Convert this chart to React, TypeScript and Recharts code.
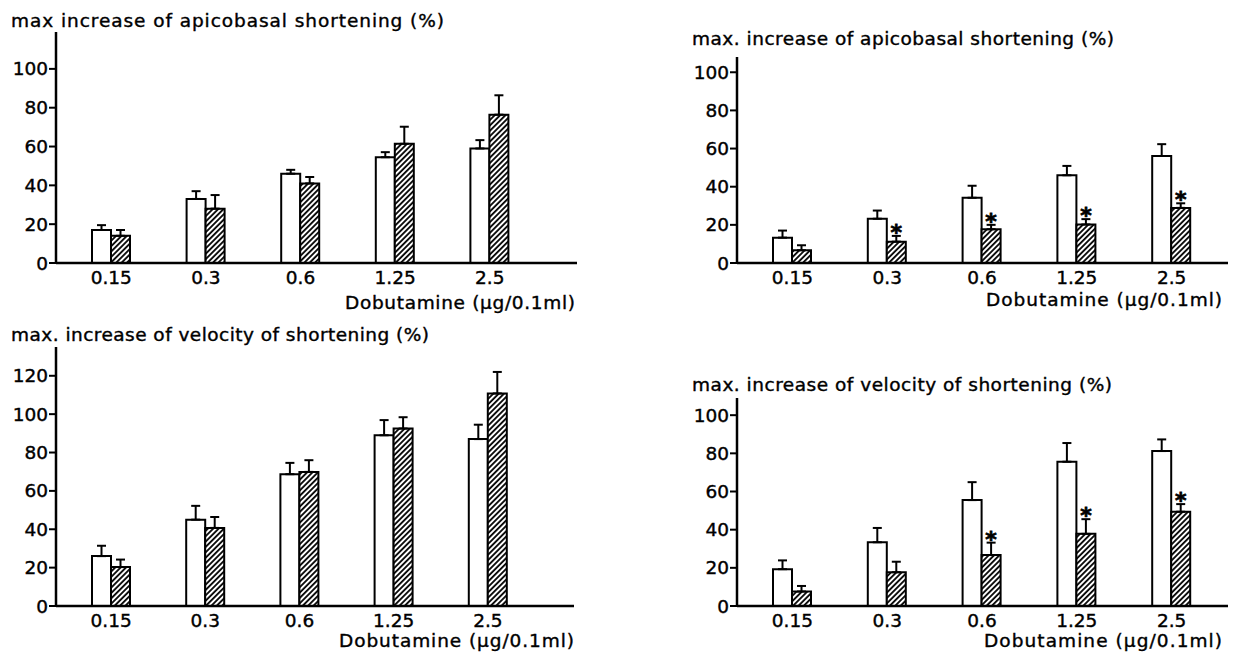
import { BarChart, Bar, XAxis, YAxis, ErrorBar, LabelList } from "recharts";

const doses = ["0.15", "0.3", "0.6", "1.25", "2.5"];

// top left: apicobasal shortening
const apicoLeftOpen = [17, 33, 46, 54.5, 59];
const apicoLeftOpenErr = [2.5, 4, 2, 2.6, 4.3];
const apicoLeftHatch = [14, 28, 41, 61.4, 76.4];
const apicoLeftHatchErr = [3, 7, 3.3, 8.8, 10];

// top right: apicobasal shortening
const apicoRightOpen = [13.3, 23.2, 34.2, 46, 56.1];
const apicoRightOpenErr = [3.7, 4.3, 6.3, 4.9, 6.2];
const apicoRightHatch = [6.7, 11.2, 17.7, 20.2, 28.9];
const apicoRightHatchErr = [2.6, 3, 2.3, 2.8, 2.4];
const apicoRightSig = [false, true, true, true, true];

// bottom left: velocity of shortening
const veloLeftOpen = [26, 45, 68.7, 89, 87];
const veloLeftOpenErr = [5.4, 7.2, 5.9, 7.9, 7.5];
const veloLeftHatch = [20.3, 40.7, 69.9, 92.5, 110.8];
const veloLeftHatchErr = [3.9, 5.7, 6.1, 5.9, 11.2];

// bottom right: velocity of shortening
const veloRightOpen = [19.3, 33.4, 55.5, 75.6, 81.2];
const veloRightOpenErr = [4.6, 7.5, 9.4, 9.8, 6.1];
const veloRightHatch = [7.6, 17.7, 26.7, 37.8, 49.4];
const veloRightHatchErr = [2.9, 5.5, 6.5, 7.7, 4];
const veloRightSig = [false, false, true, true, true];

const ticks100 = [0, 20, 40, 60, 80, 100];
const ticks120 = [0, 20, 40, 60, 80, 100, 120];

const xLabel = "Dobutamine (μg/0.1ml)";

function buildRows(
  open: number[],
  openErr: number[],
  hatch: number[],
  hatchErr: number[],
  sig?: boolean[]
) {
  return doses.map((dose, i) => ({
    dose,
    open: open[i],
    openErr: [0, openErr[i]],
    hatch: hatch[i],
    hatchErr: [0, hatchErr[i]],
    star: sig && sig[i] ? "*" : "",
  }));
}

type Row = ReturnType<typeof buildRows>[number];

const axisStyle = { stroke: "#000", strokeWidth: 2.5 };
const tickStyle = { fontSize: 18.5, fill: "#000", stroke: "#000", strokeWidth: 0.4 };

function Panel(props: {
  rows: Row[];
  left: number;
  top: number;
  width: number;
  height: number;
  margin: { top: number; right: number; bottom: number; left: number };
  yWidth: number;
  yMax: number;
  ticks: number[];
  pad: { left: number; right: number };
}) {
  const { rows } = props;
  // asterisk above the error cap of significant hatched bars
  const star = (p: any) => {
    const vb = p.viewBox ?? p;
    const row = rows[p.index];
    if (!row || !row.star || !vb) return null;
    const perUnit = vb.height / row.hatch;
    const capY = vb.y - row.hatchErr[1] * perUnit;
    return (
      <text
        key={`star-${p.index}`}
        x={vb.x + vb.width / 2}
        y={capY + 4}
        textAnchor="middle"
        fontSize={22}
        fontWeight="bold"
        fill="#000"
        stroke="#000"
        strokeWidth={0.8}
      >
        *
      </text>
    );
  };
  return (
    <div style={{ position: "absolute", left: props.left, top: props.top }}>
      <BarChart
        width={props.width}
        height={props.height}
        data={rows}
        margin={props.margin}
        barGap={0}
        barSize={19}
      >
        <XAxis
          dataKey="dose"
          padding={props.pad}
          tickLine={false}
          axisLine={axisStyle}
          tick={tickStyle}
          height={30}
          interval={0}
        />
        <YAxis
          width={props.yWidth}
          domain={[0, props.yMax]}
          ticks={props.ticks}
          interval={0}
          tickSize={7}
          tickMargin={1}
          axisLine={axisStyle}
          tickLine={{ stroke: "#000", strokeWidth: 2 }}
          tick={tickStyle}
        />
        <Bar dataKey="open" fill="#fff" stroke="#000" strokeWidth={2} isAnimationActive={false}>
          <ErrorBar dataKey="openErr" width={4.5} stroke="#000" strokeWidth={2} direction="y" />
        </Bar>
        <Bar dataKey="hatch" fill="url(#hatch)" stroke="#000" strokeWidth={2} isAnimationActive={false}>
          <ErrorBar dataKey="hatchErr" width={4.5} stroke="#000" strokeWidth={2} direction="y" />
          <LabelList dataKey="star" content={star} />
        </Bar>
      </BarChart>
    </div>
  );
}

const titles = [
  { text: "max increase of apicobasal shortening (%)", x: 11, y: 26.5, w: 433 },
  { text: "max. increase of apicobasal shortening (%)", x: 692, y: 45, w: 422 },
  { text: "max. increase of velocity of shortening (%)", x: 11, y: 340.5, w: 418 },
  { text: "max. increase of velocity of shortening (%)", x: 692, y: 390.5, w: 420 },
];

const axisTitles = [
  { x: 345, y: 309, w: 230 },
  { x: 986, y: 306, w: 236 },
  { x: 339, y: 647, w: 235 },
  { x: 984, y: 647, w: 238 },
];

export default function App() {
  return (
    <div
      style={{
        position: "relative",
        width: 1237,
        height: 656,
        background: "#fff",
        fontFamily: "'DejaVu Sans', sans-serif",
        overflow: "hidden",
      }}
    >
      <style>{"body{margin:0}"}</style>
      <svg width={0} height={0} style={{ position: "absolute" }}>
        <defs>
          <pattern
            id="hatch"
            patternUnits="userSpaceOnUse"
            width={3.8}
            height={3.8}
            patternTransform="rotate(45)"
          >
            <rect width={3.8} height={3.8} fill="#fff" />
            <line x1={1.9} y1={0} x2={1.9} y2={3.8} stroke="#000" strokeWidth={1.8} />
          </pattern>
        </defs>
      </svg>

      <Panel
        rows={buildRows(apicoLeftOpen, apicoLeftOpenErr, apicoLeftHatch, apicoLeftHatchErr)}
        left={0}
        top={0}
        width={600}
        height={330}
        margin={{ top: 32, right: 23, bottom: 37, left: 0 }}
        yWidth={56}
        yMax={119}
        ticks={ticks100}
        pad={{ left: 8, right: 40 }}
      />
      <Panel
        rows={buildRows(apicoRightOpen, apicoRightOpenErr, apicoRightHatch, apicoRightHatchErr, apicoRightSig)}
        left={660}
        top={0}
        width={577}
        height={330}
        margin={{ top: 57, right: 9, bottom: 37, left: 0 }}
        yWidth={77}
        yMax={108}
        ticks={ticks100}
        pad={{ left: 8, right: 9 }}
      />
      <Panel
        rows={buildRows(veloLeftOpen, veloLeftOpenErr, veloLeftHatch, veloLeftHatchErr)}
        left={0}
        top={320}
        width={600}
        height={336}
        margin={{ top: 27, right: 26, bottom: 20, left: 0 }}
        yWidth={56}
        yMax={135}
        ticks={ticks120}
        pad={{ left: 8, right: 39 }}
      />
      <Panel
        rows={buildRows(veloRightOpen, veloRightOpenErr, veloRightHatch, veloRightHatchErr, veloRightSig)}
        left={660}
        top={360}
        width={577}
        height={296}
        margin={{ top: 38, right: 9, bottom: 20, left: 0 }}
        yWidth={77}
        yMax={109}
        ticks={ticks100}
        pad={{ left: 8, right: 9 }}
      />

      <svg
        width={1237}
        height={656}
        style={{ position: "absolute", left: 0, top: 0, pointerEvents: "none" }}
      >
        {titles.map((t) => (
          <text
            key={t.text + t.x}
            x={t.x}
            y={t.y}
            fontSize={18.5}
            fill="#000"
            stroke="#000"
            strokeWidth={0.4}
            textLength={t.w}
            lengthAdjust="spacing"
          >
            {t.text}
          </text>
        ))}
        {axisTitles.map((a) => (
          <text
            key={`xl-${a.x}`}
            x={a.x}
            y={a.y}
            fontSize={18.5}
            fill="#000"
            stroke="#000"
            strokeWidth={0.4}
            textLength={a.w}
            lengthAdjust="spacing"
          >
            {xLabel}
          </text>
        ))}
      </svg>
    </div>
  );
}
